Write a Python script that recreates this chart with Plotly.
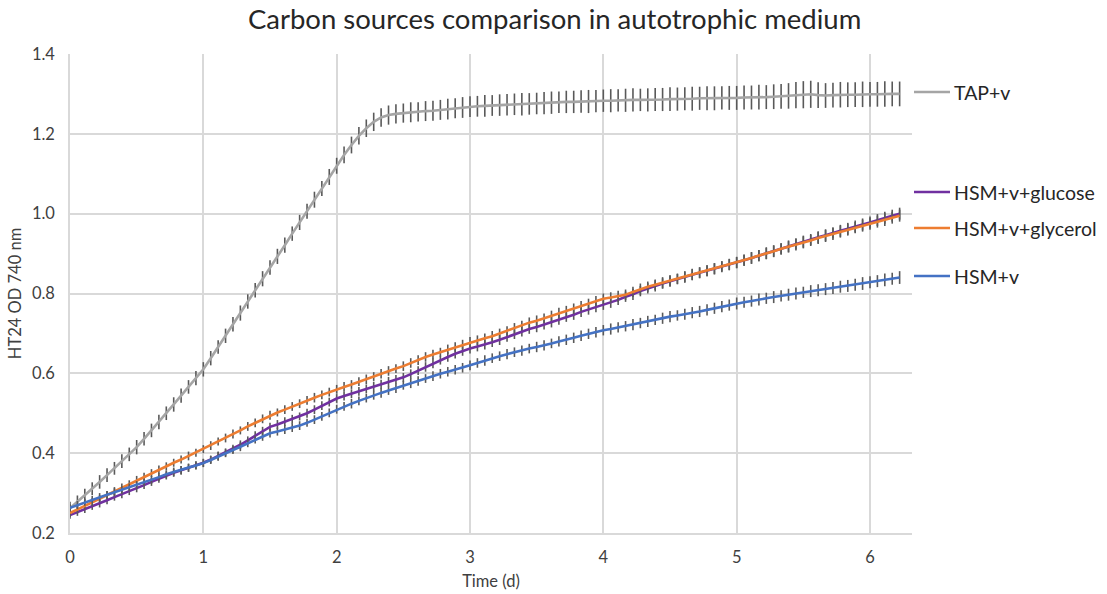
import plotly.graph_objects as go

# Sampling times (minutes, every 80 min)
TIME_MIN = [0, 80, 160, 240, 320, 400, 480, 560, 640, 720, 800, 880, 960, 1040, 1120, 1200, 1280, 1360, 1440,
            1520, 1600, 1680, 1760, 1840, 1920, 2000, 2080, 2160, 2240, 2320, 2400, 2480, 2560, 2640, 2720, 2800, 2880,
            2960, 3040, 3120, 3200, 3280, 3360, 3440, 3520, 3600, 3680, 3760, 3840, 3920, 4000, 4080, 4160, 4240, 4320,
            4400, 4480, 4560, 4640, 4720, 4800, 4880, 4960, 5040, 5120, 5200, 5280, 5360, 5440, 5520, 5600, 5680, 5760,
            5840, 5920, 6000, 6080, 6160, 6240, 6320, 6400, 6480, 6560, 6640, 6720, 6800, 6880, 6960, 7040, 7120, 7200,
            7280, 7360, 7440, 7520, 7600, 7680, 7760, 7840, 7920, 8000, 8080, 8160, 8240, 8320, 8400, 8480, 8560, 8640,
            8720, 8800, 8880, 8960]
TIME_D = [m / 1440 for m in TIME_MIN]

TAP_V = [0.262, 0.278, 0.294, 0.311, 0.328, 0.345, 0.362, 0.380, 0.397, 0.415, 0.436, 0.457, 0.478, 0.500, 0.522, 0.544, 0.566, 0.588, 0.610,
         0.638, 0.666, 0.694, 0.723, 0.751, 0.780, 0.808, 0.837, 0.865, 0.893, 0.921, 0.950, 0.978, 1.006, 1.035, 1.063, 1.092, 1.120,
         1.147, 1.172, 1.195, 1.214, 1.230, 1.241, 1.247, 1.250, 1.252, 1.254, 1.255, 1.257, 1.258, 1.260, 1.262, 1.264, 1.266, 1.268,
         1.269, 1.270, 1.271, 1.272, 1.273, 1.274, 1.274, 1.275, 1.276, 1.277, 1.278, 1.279, 1.280, 1.280, 1.281, 1.281, 1.282, 1.283,
         1.283, 1.284, 1.284, 1.285, 1.285, 1.285, 1.286, 1.286, 1.287, 1.287, 1.288, 1.288, 1.289, 1.289, 1.289, 1.290, 1.290, 1.290,
         1.291, 1.291, 1.292, 1.292, 1.293, 1.294, 1.295, 1.297, 1.298, 1.299, 1.297, 1.296, 1.297, 1.298, 1.298, 1.298, 1.299, 1.299,
         1.299, 1.300, 1.300, 1.300]
TAP_V_ERR = [0.016, 0.016, 0.017, 0.016, 0.017, 0.017, 0.016, 0.017, 0.017, 0.018, 0.017, 0.017, 0.018, 0.017, 0.018, 0.018, 0.017, 0.018,
             0.018, 0.018, 0.017, 0.018, 0.018, 0.019, 0.018, 0.018, 0.019, 0.018, 0.019, 0.019, 0.018, 0.019, 0.019, 0.020, 0.019, 0.020, 0.020,
             0.021, 0.021, 0.022, 0.022, 0.023, 0.023, 0.024, 0.024, 0.024, 0.025, 0.024, 0.025, 0.025, 0.025, 0.026, 0.025, 0.026, 0.026,
             0.026, 0.027, 0.026, 0.027, 0.027, 0.027, 0.028, 0.027, 0.027, 0.028, 0.028, 0.027, 0.028, 0.028, 0.028, 0.029, 0.028, 0.028,
             0.029, 0.028, 0.029, 0.029, 0.028, 0.029, 0.029, 0.029, 0.030, 0.029, 0.029, 0.030, 0.029, 0.030, 0.030, 0.029, 0.030, 0.030,
             0.030, 0.030, 0.031, 0.030, 0.031, 0.031, 0.032, 0.033, 0.034, 0.034, 0.032, 0.031, 0.031, 0.032, 0.031, 0.031, 0.032, 0.031,
             0.031, 0.032, 0.031, 0.031]

HSM_GLUCOSE = [0.245, 0.252, 0.260, 0.267, 0.274, 0.282, 0.290, 0.297, 0.305, 0.312, 0.320, 0.328, 0.336, 0.344, 0.351, 0.357, 0.363, 0.370, 0.376,
               0.384, 0.393, 0.402, 0.411, 0.421, 0.432, 0.444, 0.455, 0.466, 0.472, 0.479, 0.485, 0.492, 0.500, 0.509, 0.519, 0.528, 0.537,
               0.543, 0.549, 0.555, 0.561, 0.567, 0.573, 0.579, 0.585, 0.590, 0.598, 0.607, 0.616, 0.625, 0.633, 0.641, 0.649, 0.656, 0.662,
               0.667, 0.672, 0.678, 0.684, 0.691, 0.698, 0.705, 0.711, 0.716, 0.722, 0.728, 0.735, 0.741, 0.747, 0.754, 0.760, 0.766, 0.772,
               0.777, 0.784, 0.792, 0.798, 0.806, 0.813, 0.819, 0.825, 0.831, 0.836, 0.841, 0.847, 0.852, 0.857, 0.862, 0.867, 0.872, 0.877,
               0.883, 0.889, 0.895, 0.901, 0.906, 0.912, 0.918, 0.924, 0.930, 0.935, 0.941, 0.946, 0.952, 0.957, 0.962, 0.968, 0.973, 0.978,
               0.984, 0.990, 0.995, 1.000]
HSM_GLUCOSE_ERR = [0.009, 0.009, 0.010, 0.009, 0.010, 0.010, 0.009, 0.010, 0.010, 0.010, 0.010, 0.010, 0.010, 0.010, 0.010, 0.011, 0.010, 0.010, 0.010,
                   0.010, 0.011, 0.010, 0.010, 0.011, 0.010, 0.011, 0.011, 0.010, 0.011, 0.011, 0.011, 0.010, 0.011, 0.011, 0.011, 0.011, 0.011,
                   0.011, 0.011, 0.011, 0.011, 0.012, 0.011, 0.012, 0.011, 0.011, 0.012, 0.011, 0.012, 0.012, 0.011, 0.012, 0.012, 0.012, 0.012,
                   0.012, 0.012, 0.012, 0.013, 0.012, 0.012, 0.013, 0.012, 0.013, 0.012, 0.013, 0.013, 0.012, 0.013, 0.013, 0.013, 0.013, 0.013,
                   0.013, 0.013, 0.013, 0.014, 0.013, 0.013, 0.014, 0.013, 0.014, 0.013, 0.014, 0.014, 0.013, 0.014, 0.014, 0.014, 0.014, 0.014,
                   0.014, 0.014, 0.014, 0.015, 0.014, 0.014, 0.015, 0.014, 0.015, 0.014, 0.015, 0.015, 0.014, 0.015, 0.015, 0.015, 0.015, 0.015,
                   0.015, 0.015, 0.015, 0.015]

HSM_GLYCEROL = [0.250, 0.258, 0.268, 0.277, 0.286, 0.295, 0.305, 0.314, 0.323, 0.333, 0.341, 0.350, 0.358, 0.367, 0.376, 0.384, 0.393, 0.401, 0.410,
                0.419, 0.429, 0.438, 0.448, 0.457, 0.467, 0.476, 0.486, 0.495, 0.502, 0.509, 0.517, 0.524, 0.532, 0.539, 0.546, 0.553, 0.560,
                0.566, 0.572, 0.579, 0.585, 0.592, 0.599, 0.606, 0.612, 0.618, 0.626, 0.633, 0.641, 0.647, 0.653, 0.660, 0.666, 0.672, 0.678,
                0.683, 0.688, 0.693, 0.700, 0.706, 0.713, 0.720, 0.727, 0.732, 0.738, 0.744, 0.751, 0.756, 0.762, 0.768, 0.775, 0.781, 0.787,
                0.790, 0.793, 0.797, 0.804, 0.811, 0.817, 0.822, 0.827, 0.832, 0.837, 0.842, 0.848, 0.852, 0.857, 0.862, 0.868, 0.873, 0.878,
                0.884, 0.889, 0.895, 0.900, 0.906, 0.912, 0.917, 0.923, 0.928, 0.933, 0.939, 0.944, 0.949, 0.955, 0.960, 0.965, 0.970, 0.975,
                0.980, 0.985, 0.990, 0.995]
HSM_GLYCEROL_ERR = [0.010, 0.009, 0.010, 0.010, 0.009, 0.010, 0.010, 0.010, 0.009, 0.010, 0.010, 0.010, 0.011, 0.010, 0.010, 0.010, 0.011, 0.010, 0.010,
                    0.011, 0.010, 0.011, 0.011, 0.010, 0.011, 0.011, 0.011, 0.011, 0.010, 0.011, 0.011, 0.011, 0.011, 0.012, 0.011, 0.011, 0.011,
                    0.012, 0.011, 0.011, 0.012, 0.011, 0.012, 0.012, 0.011, 0.012, 0.012, 0.012, 0.012, 0.012, 0.011, 0.012, 0.012, 0.012, 0.013,
                    0.012, 0.012, 0.013, 0.012, 0.012, 0.013, 0.012, 0.013, 0.013, 0.012, 0.013, 0.013, 0.013, 0.013, 0.013, 0.012, 0.013, 0.013,
                    0.013, 0.014, 0.013, 0.013, 0.014, 0.013, 0.013, 0.014, 0.014, 0.013, 0.014, 0.014, 0.014, 0.014, 0.014, 0.013, 0.014, 0.014,
                    0.014, 0.015, 0.014, 0.014, 0.015, 0.014, 0.014, 0.015, 0.015, 0.014, 0.015, 0.015, 0.015, 0.015, 0.015, 0.014, 0.015, 0.015,
                    0.015, 0.016, 0.015, 0.015]

HSM_V = [0.263, 0.270, 0.277, 0.283, 0.290, 0.296, 0.302, 0.308, 0.314, 0.320, 0.327, 0.333, 0.340, 0.347, 0.353, 0.358, 0.364, 0.369, 0.375,
         0.383, 0.392, 0.400, 0.408, 0.416, 0.425, 0.434, 0.442, 0.450, 0.454, 0.459, 0.464, 0.469, 0.476, 0.484, 0.492, 0.501, 0.510,
         0.517, 0.524, 0.531, 0.538, 0.545, 0.551, 0.557, 0.563, 0.570, 0.575, 0.581, 0.587, 0.593, 0.599, 0.604, 0.609, 0.614, 0.620,
         0.626, 0.632, 0.638, 0.643, 0.648, 0.653, 0.657, 0.662, 0.666, 0.670, 0.675, 0.680, 0.684, 0.689, 0.694, 0.699, 0.703, 0.708,
         0.711, 0.715, 0.718, 0.722, 0.726, 0.730, 0.734, 0.738, 0.742, 0.745, 0.748, 0.752, 0.755, 0.759, 0.763, 0.767, 0.771, 0.775,
         0.778, 0.781, 0.785, 0.788, 0.791, 0.794, 0.797, 0.800, 0.803, 0.806, 0.808, 0.811, 0.814, 0.817, 0.819, 0.822, 0.825, 0.828,
         0.831, 0.834, 0.837, 0.840]
HSM_V_ERR = [0.009, 0.010, 0.009, 0.010, 0.010, 0.009, 0.010, 0.010, 0.010, 0.010, 0.009, 0.010, 0.010, 0.010, 0.011, 0.010, 0.010, 0.010, 0.010,
             0.010, 0.011, 0.010, 0.010, 0.011, 0.010, 0.010, 0.011, 0.011, 0.010, 0.011, 0.011, 0.011, 0.010, 0.011, 0.011, 0.011, 0.011,
             0.011, 0.012, 0.011, 0.011, 0.011, 0.012, 0.011, 0.012, 0.011, 0.012, 0.012, 0.011, 0.012, 0.012, 0.012, 0.012, 0.012, 0.012,
             0.012, 0.013, 0.012, 0.012, 0.013, 0.012, 0.013, 0.012, 0.013, 0.013, 0.012, 0.013, 0.013, 0.013, 0.013, 0.013, 0.013, 0.013,
             0.014, 0.013, 0.013, 0.014, 0.013, 0.014, 0.013, 0.014, 0.014, 0.013, 0.014, 0.014, 0.014, 0.014, 0.014, 0.014, 0.014, 0.015,
             0.014, 0.014, 0.015, 0.014, 0.015, 0.014, 0.015, 0.015, 0.014, 0.015, 0.015, 0.015, 0.015, 0.015, 0.015, 0.015, 0.016, 0.015,
             0.015, 0.016, 0.015, 0.016]

SERIES = [
    ("TAP+v", TAP_V, TAP_V_ERR, "#a5a5a5"),
    ("HSM+v+glucose", HSM_GLUCOSE, HSM_GLUCOSE_ERR, "#7030a0"),
    ("HSM+v+glycerol", HSM_GLYCEROL, HSM_GLYCEROL_ERR, "#ed7d31"),
    ("HSM+v", HSM_V, HSM_V_ERR, "#4472c4"),
]

X_TICKS = [0, 1, 2, 3, 4, 5, 6]
Y_TICKS = [0.2, 0.4, 0.6, 0.8, 1.0, 1.2, 1.4]

FONT = "Lato, 'Open Sans', sans-serif"

fig = go.Figure()
for name, vals, err, color in SERIES:
    fig.add_trace(go.Scatter(
        x=TIME_D, y=vals, name=name, mode="lines",
        line=dict(color=color, width=2.6),
        error_y=dict(type="data", array=err, symmetric=True, visible=True,
                     color="#595959", thickness=1.6, width=0),
        showlegend=False,
    ))

# Legend drawn as labelled line stubs at the right of the plot area
W, H = 1107, 594
L, R, T, B = 70, 195, 54, 61
pw, ph = W - L - R, H - T - B

def px_x(px):
    return (px - L) / pw

def px_y(py):
    return (H - B - py) / ph

legend_rows = [("TAP+v", "#a5a5a5", 92), ("HSM+v+glucose", "#7030a0", 192),
               ("HSM+v+glycerol", "#ed7d31", 228), ("HSM+v", "#4472c4", 276)]
shapes = []
annotations = []
for label, color, py in legend_rows:
    shapes.append(dict(type="line", xref="paper", yref="paper",
                       x0=px_x(914), x1=px_x(950), y0=px_y(py), y1=px_y(py),
                       line=dict(color=color, width=2.6)))
    annotations.append(dict(xref="paper", yref="paper", x=px_x(952), y=px_y(py),
                            text=label, showarrow=False, xanchor="left", yanchor="middle",
                            font=dict(family=FONT, size=19.5, color="#262626")))

fig.update_layout(
    width=W, height=H,
    margin=dict(l=L, r=R, t=T, b=B, autoexpand=False),
    paper_bgcolor="white", plot_bgcolor="white",
    title=dict(text="Carbon sources comparison in autotrophic medium",
               x=0.501, xanchor="center", y=1 - 19 / H, yanchor="middle",
               font=dict(family=FONT, size=27.5, color="#262626")),
    font=dict(family=FONT, color="#595959"),
    shapes=shapes, annotations=annotations,
    xaxis=dict(range=[0, 6.315], tickvals=X_TICKS, ticktext=[str(v) for v in X_TICKS],
               showgrid=True, gridcolor="#d9d9d9", gridwidth=1.5,
               showline=True, linecolor="#d9d9d9", linewidth=1.5,
               zeroline=False, ticks="", ticklabelstandoff=8,
               tickfont=dict(size=16.5, color="#404040"),
               title=dict(text="Time (d)", font=dict(size=16.5, color="#404040"), standoff=10)),
    yaxis=dict(range=[0.2, 1.4], tickvals=Y_TICKS, ticktext=[f"{v:.1f}" for v in Y_TICKS],
               showgrid=True, gridcolor="#d9d9d9", gridwidth=1.5,
               showline=True, linecolor="#d9d9d9", linewidth=1.5,
               zeroline=False, ticks="", ticklabelstandoff=10,
               tickfont=dict(size=16.5, color="#404040"),
               title=dict(text="HT24 OD 740 nm", font=dict(size=16.5, color="#404040"), standoff=6)),
)

fig.write_html("out.html", config={"displayModeBar": False},
               post_script="document.body.style.margin='0';")
